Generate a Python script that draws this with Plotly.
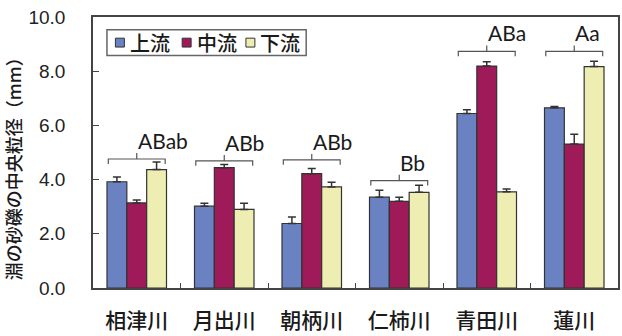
import plotly.graph_objects as go

rivers = ["相津川", "月出川", "朝柄川", "仁柿川", "青田川", "蓮川"]
series = ["上流", "中流", "下流"]
upstream = [3.92, 3.02, 2.38, 3.35, 6.44, 6.65]
midstream = [3.14, 4.44, 4.22, 3.20, 8.19, 5.31]
downstream = [4.37, 2.90, 3.73, 3.53, 3.55, 8.17]
up_err = [0.18, 0.11, 0.24, 0.26, 0.14, 0.05]
mid_err = [0.11, 0.12, 0.19, 0.15, 0.16, 0.36]
down_err = [0.28, 0.23, 0.17, 0.26, 0.10, 0.20]
sig_labels = ["ABab", "ABb", "ABb", "Bb", "ABa", "Aa"]
bracket_levels = [4.76, 4.69, 4.73, 3.96, 8.73, 8.73]
y_ticks = [0, 2, 4, 6, 8, 10]

colors = ["#6b82c2", "#9e1a58", "#eeeeb2"]
values = [upstream, midstream, downstream]
errors = [up_err, mid_err, down_err]

W, H = 622, 336
L, R, T, B = 93, 2, 17, 44
PW, PH = W - L - R, H - T - B
YMAX = 10.0

def px_to_paper(px, py):
    return (px - L) / PW, (H - B - py) / PH

fig = go.Figure()
for name, vals, errs, col in zip(series, values, errors, colors):
    fig.add_trace(go.Bar(
        x=rivers, y=vals, name=name, showlegend=False,
        marker=dict(color=col, line=dict(color="#333333", width=1.2)),
        error_y=dict(type="data", array=errs, arrayminus=[0] * len(errs),
                     symmetric=False, color="#333333", thickness=1.5, width=4),
    ))

shapes = []
annotations = []
unit = YMAX / PH  # data units per pixel
half = 0.325
for i, (lab, lev) in enumerate(zip(sig_labels, bracket_levels)):
    down = 5 * unit
    up = 6 * unit
    path = (f"M {i - half},{lev - down} L {i - half},{lev} L {i + half},{lev} "
            f"L {i + half},{lev - down} M {i},{lev} L {i},{lev + up}")
    shapes.append(dict(type="path", xref="x", yref="y", path=path,
                       line=dict(color="#555555", width=1.2)))
    annotations.append(dict(x=i, y=lev, xref="x", yref="y", text=lab,
                            showarrow=False, xanchor="left", yanchor="bottom",
                            xshift=-1, yshift=4,
                            font=dict(family="Lato", size=21, color="#1a1a1a")))

# manual legend
bx0, by0 = px_to_paper(107, 56)
bx1, by1 = px_to_paper(307, 30)
shapes.append(dict(type="rect", xref="paper", yref="paper", x0=bx0, y0=by0,
                   x1=bx1, y1=by1, fillcolor="white",
                   line=dict(color="#666666", width=1.5)))
marker_cx = [120, 187, 251]
for name, col, cx in zip(series, colors, marker_cx):
    mx0, my0 = px_to_paper(cx - 4.5, 47.5)
    mx1, my1 = px_to_paper(cx + 4.5, 38.5)
    shapes.append(dict(type="rect", xref="paper", yref="paper", x0=mx0, y0=my0,
                       x1=mx1, y1=my1, fillcolor=col,
                       line=dict(color="#333333", width=1)))
    tx, ty = px_to_paper(cx + 8, 43)
    annotations.append(dict(x=tx, y=ty, xref="paper", yref="paper", text=name,
                            showarrow=False, xanchor="left", yanchor="middle",
                            font=dict(family="Noto Sans CJK JP", size=20,
                                      color="#1a1a1a", weight=500)))

# y axis title
tx, ty = px_to_paper(13, 166)
annotations.append(dict(x=tx, y=ty, xref="paper", yref="paper",
                        text="淵の砂礫の中央粒径（mm）", textangle=-90,
                        showarrow=False, xanchor="center", yanchor="middle",
                        font=dict(family="Noto Sans CJK JP", size=18,
                                  color="#1a1a1a", weight=500)))

fig.update_layout(
    width=W, height=H,
    margin=dict(l=L, r=R, t=T, b=B, pad=0),
    paper_bgcolor="white", plot_bgcolor="white",
    barmode="group", bargap=0.32, bargroupgap=0,
    showlegend=False,
    shapes=shapes, annotations=annotations,
    xaxis=dict(showline=True, linecolor="#444444", linewidth=1.5, mirror=True,
               ticks="inside", tickson="boundaries", ticklen=5,
               tickcolor="#444444", showgrid=False,
               tickfont=dict(family="Noto Sans CJK JP", size=21, color="#1a1a1a",
                             weight=500),
               ticklabelstandoff=13),
    yaxis=dict(range=[0, YMAX], tickvals=y_ticks, tickformat=".1f",
               showline=True, linecolor="#444444", linewidth=1.5, mirror=True,
               ticks="inside", ticklen=6, tickcolor="#444444", showgrid=False,
               zeroline=False,
               tickfont=dict(family="Liberation Sans", size=19, color="#222222"),
               ticklabelstandoff=22),
)

fig.write_html("out.html")
